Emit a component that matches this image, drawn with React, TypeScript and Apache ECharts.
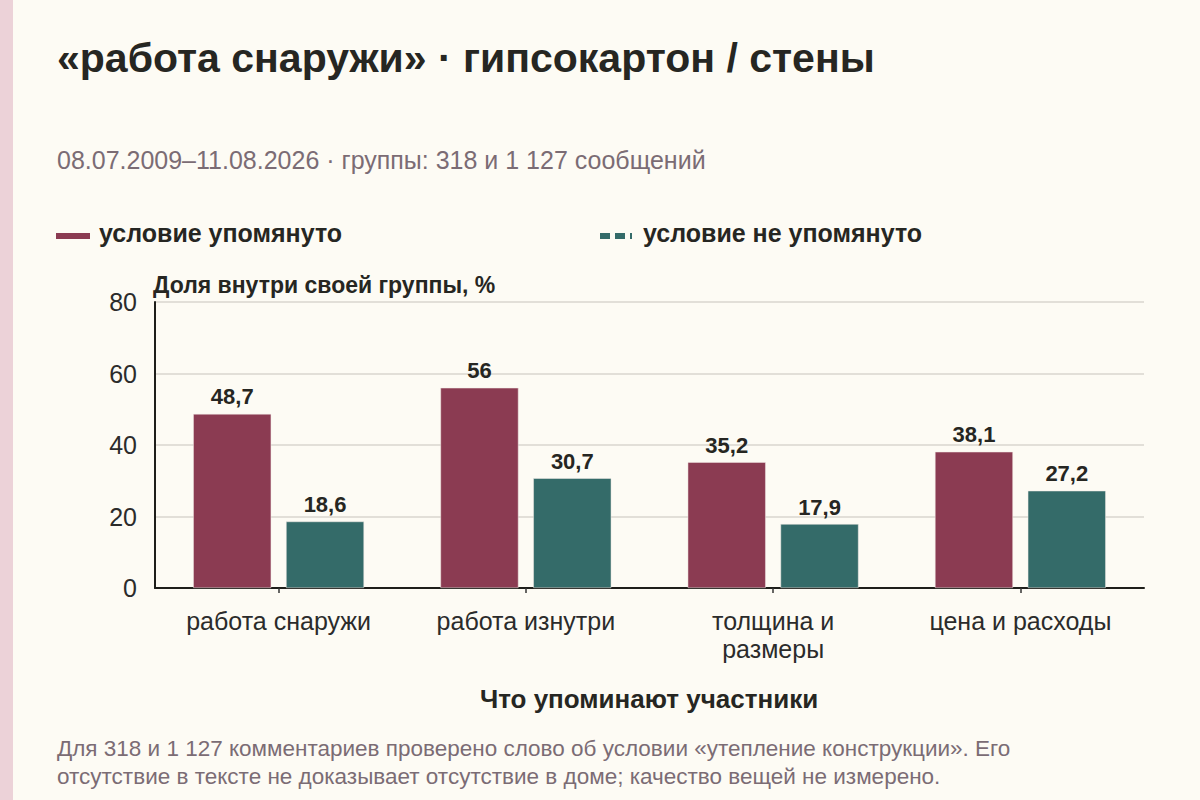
import React, { useEffect, useRef } from "react";
import * as echarts from "echarts";

const categories = ["работа снаружи", "работа изнутри", "толщина и\nразмеры", "цена и расходы"];
const mentioned = [48.7, 56, 35.2, 38.1];
const notMentioned = [18.6, 30.7, 17.9, 27.2];
const yTicks = { min: 0, max: 80, interval: 20 };

const titleText = "«работа снаружи» · гипсокартон / стены";
const subtitleText = "08.07.2009–11.08.2026 · группы: 318 и 1 127 сообщений";
const legendNames = ["условие упомянуто", "условие не упомянуто"];
const yAxisTitle = "Доля внутри своей группы, %";
const xAxisTitle = "Что упоминают участники";
const footLines = [
  "Для 318 и 1 127 комментариев проверено слово об условии «утепление конструкции». Его",
  "отсутствие в тексте не доказывает отсутствие в доме; качество вещей не измерено.",
];

const FONT = '"Liberation Sans", Arial, sans-serif';
const BG = "#fdfbf4";
const RED = "#8b3b52";
const TEAL = "#346b69";
const DARK = "#262622";
const MUTED = "#7b6c74";

export default function App() {
  const ref = useRef<HTMLDivElement>(null);
  useEffect(() => {
    if (!ref.current) return;
    const chart = echarts.init(ref.current, null, { renderer: "svg" });
    const fmt = (p: any) => String(p.value).replace(".", ",");
    chart.setOption({
      animation: false,
      backgroundColor: BG,
      textStyle: { fontFamily: FONT },
      grid: { left: 155, right: 56, top: 302, bottom: 212, containLabel: false },
      xAxis: {
        type: "category",
        data: categories,
        axisLine: { show: true, lineStyle: { color: "#1e1e1a", width: 2 } },
        axisTick: { show: true, alignWithLabel: true, length: 5, lineStyle: { color: "#333", width: 1.5 } },
        axisLabel: {
          interval: 0,
          fontSize: 25,
          color: "#2b2b2b",
          fontFamily: FONT,
          margin: 19,
          lineHeight: 28,
        },
      },
      yAxis: {
        type: "value",
        min: yTicks.min,
        max: yTicks.max,
        interval: yTicks.interval,
        axisLine: { show: true, lineStyle: { color: "#1e1e1a", width: 2 } },
        axisTick: { show: false },
        axisLabel: { fontSize: 25, color: "#2b2b2b", fontFamily: FONT, margin: 18 },
        splitLine: { show: true, lineStyle: { color: "#d9d6cf", width: 1.5 } },
      },
      series: [
        {
          name: legendNames[0],
          type: "bar",
          data: mentioned,
          barWidth: 78,
          barGap: "19%",
          itemStyle: { color: RED, borderColor: "#f3ebe6", borderWidth: 0.5 },
          label: {
            show: true,
            position: "top",
            distance: 6,
            formatter: fmt,
            fontSize: 22,
            fontWeight: "bold",
            color: DARK,
            fontFamily: FONT,
          },
        },
        {
          name: legendNames[1],
          type: "bar",
          data: notMentioned,
          barWidth: 78,
          itemStyle: { color: TEAL, borderColor: "#f3ebe6", borderWidth: 0.5 },
          label: {
            show: true,
            position: "top",
            distance: 6,
            formatter: fmt,
            fontSize: 22,
            fontWeight: "bold",
            color: DARK,
            fontFamily: FONT,
          },
        },
      ],
      graphic: [
        { type: "rect", left: 0, top: 0, shape: { x: 0, y: 0, width: 13, height: 800 }, style: { fill: "#ecd2d8" } },
        {
          type: "text",
          x: 57,
          y: 58,
          style: { text: titleText, font: `bold 41px ${FONT}`, fill: DARK, verticalAlign: "middle", align: "left" },
        },
        {
          type: "text",
          x: 57,
          y: 160,
          style: { text: subtitleText, font: `25px ${FONT}`, fill: MUTED, verticalAlign: "middle", align: "left" },
        },
        { type: "rect", shape: { x: 56, y: 233, width: 34, height: 6 }, style: { fill: RED } },
        {
          type: "text",
          x: 99,
          y: 233,
          style: { text: legendNames[0], font: `bold 25px ${FONT}`, fill: DARK, verticalAlign: "middle", align: "left" },
        },
        {
          type: "line",
          shape: { x1: 600, y1: 236, x2: 632, y2: 236 },
          style: { stroke: TEAL, lineWidth: 6, lineDash: [10, 5] },
        },
        {
          type: "text",
          x: 643,
          y: 233,
          style: { text: legendNames[1], font: `bold 25px ${FONT}`, fill: DARK, verticalAlign: "middle", align: "left" },
        },
        {
          type: "text",
          x: 153,
          y: 285,
          style: { text: yAxisTitle, font: `bold 23px ${FONT}`, fill: DARK, verticalAlign: "middle", align: "left" },
        },
        {
          type: "text",
          x: 649,
          y: 699,
          style: { text: xAxisTitle, font: `bold 26px ${FONT}`, fill: DARK, verticalAlign: "middle", align: "center" },
        },
        {
          type: "text",
          x: 57,
          y: 748,
          style: { text: footLines[0], font: `22.5px ${FONT}`, fill: MUTED, verticalAlign: "middle", align: "left" },
        },
        {
          type: "text",
          x: 57,
          y: 776,
          style: { text: footLines[1], font: `22.5px ${FONT}`, fill: MUTED, verticalAlign: "middle", align: "left" },
        },
      ],
    });
    return () => chart.dispose();
  }, []);
  return (
    <div
      ref={ref}
      style={{ position: "fixed", left: 0, top: 0, width: 1200, height: 800 }}
    />
  );
}
